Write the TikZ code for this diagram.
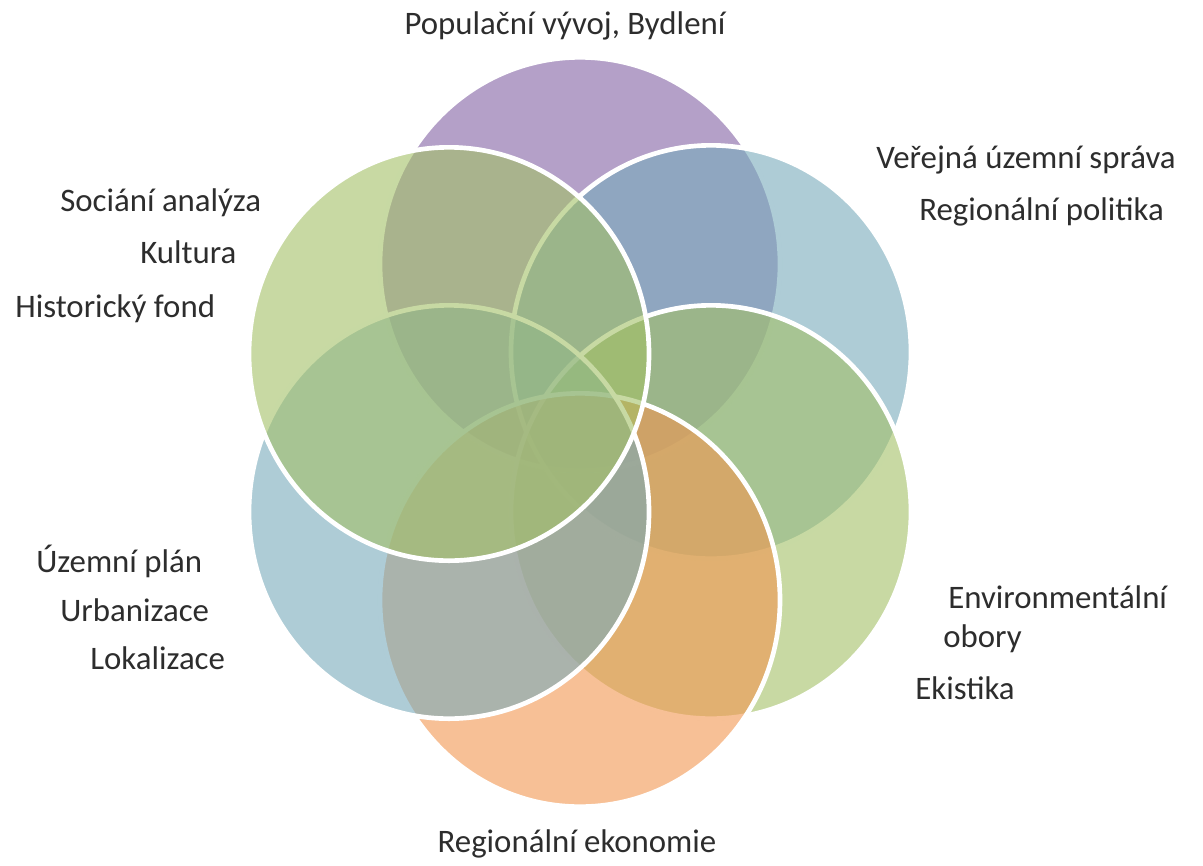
\documentclass[tikz,border=0pt]{standalone}
\usepackage{fontspec}
\setmainfont{Carlito}
\definecolor{cP}{RGB}{130,97,163}
\definecolor{cB}{RGB}{120,170,187}
\definecolor{cG}{RGB}{163,192,102}
\definecolor{cO}{RGB}{242,150,80}
\definecolor{labgray}{RGB}{45,45,45}
\begin{document}
\begin{tikzpicture}[x=0.6pt,y=-0.6pt]
\tikzset{
  petal/.style={fill opacity=0.6, draw=white, draw opacity=1, line width=2.8pt},
  lab/.style={font=\fontsize{19.7}{23}\selectfont, text=labgray, inner sep=0pt}
}
\useasboundingbox (0,0) rectangle (1203,865);
% petals, back to front
\draw[petal, fill=cP] (580,264) ellipse [x radius=120pt, y radius=124pt];
\draw[petal, fill=cB] (711,352) ellipse [x radius=120pt, y radius=124pt];
\draw[petal, fill=cG] (711,512) ellipse [x radius=120pt, y radius=124pt];
\draw[petal, fill=cO] (580,600) ellipse [x radius=120pt, y radius=124pt];
\draw[petal, fill=cB] (449,512) ellipse [x radius=120pt, y radius=124pt];
\draw[petal, fill=cG] (449,354) ellipse [x radius=120pt, y radius=124pt];
% labels
\node[lab, anchor=base] (pop) at (565,34) {Populační vývoj, Bydlení};
\node[lab, anchor=base west] (ver) at (876,168) {Veřejná územní správa};
\node[lab, anchor=base west] (regp) at (919,220) {Regionální politika};
\node[lab, anchor=base west] (soc) at (60,211) {Sociání analýza};
\node[lab, anchor=base west] (kul) at (140,263) {Kultura};
\node[lab, anchor=base west] (his) at (15,317) {Historický fond};
\node[lab, anchor=base west] (uzp) at (36,572) {Územní plán};
\node[lab, anchor=base west] (urb) at (60,621) {Urbanizace};
\node[lab, anchor=base west] (lok) at (90,669) {Lokalizace};
\node[lab, anchor=base west] (env) at (948,608) {Environmentální};
\node[lab, anchor=base west] (obo) at (943,647) {obory};
\node[lab, anchor=base west] (eki) at (915,699) {Ekistika};
\node[lab, anchor=base] (rege) at (577,852) {Regionální ekonomie};
\end{tikzpicture}
\end{document}
